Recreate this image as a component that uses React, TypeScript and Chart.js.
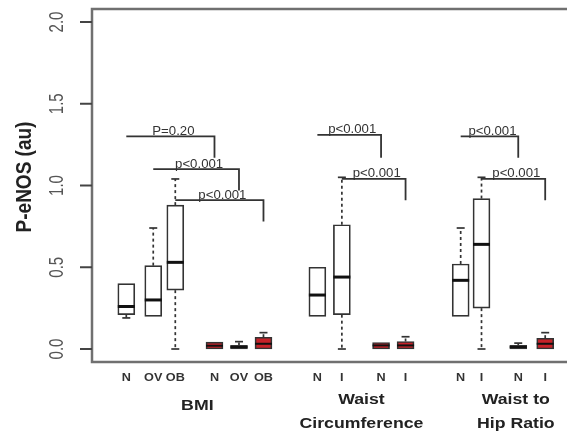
import React, { useEffect, useRef } from 'react';
import { Chart, registerables } from 'chart.js';
Chart.register(...registerables);

// ---- data ----
const boxLabels = ['N', 'OV', 'OB', 'N', 'OV', 'OB', 'N', 'I', 'N', 'I', 'N', 'I', 'N', 'I'];
const boxPositions = [1.4, 2.5, 3.4, 5.0, 6.0, 7.0, 9.2, 10.2, 11.8, 12.8, 15.05, 15.9, 17.4, 18.5];
const whiskerLow = [0.19, 0.2, 0.0, 0.0, 0.0, 0.0, 0.2, 0.0, 0.0, 0.0, 0.2, 0.0, 0.0, 0.0];
const q1 = [0.21, 0.2, 0.36, 0.0, 0.0, 0.0, 0.2, 0.21, 0.0, 0.0, 0.2, 0.25, 0.0, 0.0];
const medians = [0.26, 0.3, 0.53, 0.02, 0.012, 0.032, 0.33, 0.44, 0.022, 0.022, 0.42, 0.64, 0.012, 0.032];
const q3 = [0.4, 0.51, 0.88, 0.042, 0.022, 0.072, 0.5, 0.76, 0.04, 0.046, 0.52, 0.92, 0.022, 0.066];
const whiskerHigh = [0.4, 0.74, 1.04, 0.042, 0.045, 0.1, 0.5, 1.05, 0.04, 0.075, 0.74, 1.05, 0.036, 0.1];
const redBox = [false, false, false, true, true, true, false, false, true, true, false, false, true, true];

const groupLines = [['BMI'], ['Waist', 'Circumference'], ['Waist to', 'Hip Ratio']];
const groupCenters = [4.3, 11.0, 17.3];

const bracketFrom = [0, 1, 2, 6, 7, 10, 11];
const bracketTo = [3, 4, 5, 8, 9, 12, 13];
const bracketLevel = [1.3, 1.1, 0.91, 1.31, 1.04, 1.3, 1.04];
const bracketDrop = [1.17, 0.97, 0.78, 1.17, 0.91, 1.17, 0.91];
const bracketText = ['P=0.20', 'p<0.001', 'p<0.001', 'p<0.001', 'p<0.001', 'p<0.001', 'p<0.001'];

const yTickValues = [0, 0.5, 1.0, 1.5, 2.0];
const yTickLabels = ['0.0', '0.5', '1.0', '1.5', '2.0'];
const yTitle = 'P-eNOS (au)';

const FONT = "'Liberation Sans', Arial, Helvetica, sans-serif";

function drawText(ctx: CanvasRenderingContext2D, s: string, x: number, y: number, font: string, color: string, sx = 1, baseline: CanvasTextBaseline = 'middle') {
  ctx.save();
  ctx.translate(x, y);
  ctx.scale(sx, 1);
  ctx.font = font;
  ctx.fillStyle = color;
  ctx.textAlign = 'center';
  ctx.textBaseline = baseline;
  ctx.fillText(s, 0, 0);
  ctx.restore();
}

function drawRotated(ctx: CanvasRenderingContext2D, s: string, x: number, y: number, font: string, color: string, sy = 1) {
  ctx.save();
  ctx.translate(x, y);
  ctx.rotate(-Math.PI / 2);
  ctx.scale(1, sy);
  ctx.font = font;
  ctx.fillStyle = color;
  ctx.textAlign = 'center';
  ctx.textBaseline = 'middle';
  ctx.fillText(s, 0, 0);
  ctx.restore();
}

const boxPlugin = {
  id: 'boxExtras',
  beforeDatasetsDraw(chart: any) {
    const ctx: CanvasRenderingContext2D = chart.ctx;
    const xs = chart.scales.x;
    const ys = chart.scales.y;
    ctx.save();
    ctx.strokeStyle = '#333';
    ctx.lineWidth = 1.7;
    for (let i = 0; i < boxPositions.length; i++) {
      const px = xs.getPixelForValue(boxPositions[i]);
      const cap = 4;
      if (whiskerHigh[i] > q3[i] + 0.001) {
        ctx.setLineDash([3, 3]);
        ctx.beginPath();
        ctx.moveTo(px, ys.getPixelForValue(q3[i]));
        ctx.lineTo(px, ys.getPixelForValue(whiskerHigh[i]));
        ctx.stroke();
        ctx.setLineDash([]);
        ctx.beginPath();
        ctx.moveTo(px - cap, ys.getPixelForValue(whiskerHigh[i]));
        ctx.lineTo(px + cap, ys.getPixelForValue(whiskerHigh[i]));
        ctx.stroke();
      }
      if (whiskerLow[i] < q1[i] - 0.001) {
        ctx.setLineDash([3, 3]);
        ctx.beginPath();
        ctx.moveTo(px, ys.getPixelForValue(q1[i]));
        ctx.lineTo(px, ys.getPixelForValue(whiskerLow[i]));
        ctx.stroke();
        ctx.setLineDash([]);
        ctx.beginPath();
        ctx.moveTo(px - cap, ys.getPixelForValue(whiskerLow[i]));
        ctx.lineTo(px + cap, ys.getPixelForValue(whiskerLow[i]));
        ctx.stroke();
      }
    }
    ctx.restore();
  },
  afterDatasetsDraw(chart: any) {
    const ctx: CanvasRenderingContext2D = chart.ctx;
    const xs = chart.scales.x;
    const ys = chart.scales.y;
    const area = chart.chartArea;
    ctx.save();
    // medians
    ctx.strokeStyle = '#111';
    for (let i = 0; i < boxPositions.length; i++) {
      const px = xs.getPixelForValue(boxPositions[i]);
      const py = ys.getPixelForValue(medians[i]);
      ctx.lineWidth = redBox[i] ? 2 : 3;
      ctx.beginPath();
      ctx.moveTo(px - 8.5, py);
      ctx.lineTo(px + 8.5, py);
      ctx.stroke();
    }
    // brackets
    ctx.strokeStyle = '#333';
    ctx.lineWidth = 1.8;
    for (let b = 0; b < bracketFrom.length; b++) {
      const x1 = xs.getPixelForValue(boxPositions[bracketFrom[b]]);
      const x2 = xs.getPixelForValue(boxPositions[bracketTo[b]]);
      const y1 = ys.getPixelForValue(bracketLevel[b]);
      const y2 = ys.getPixelForValue(bracketDrop[b]);
      ctx.beginPath();
      ctx.moveTo(x1, y1);
      ctx.lineTo(x2, y1);
      ctx.lineTo(x2, y2);
      ctx.stroke();
      drawText(ctx, bracketText[b], (x1 + x2) / 2 + 3, y1 - 1.5, `12px ${FONT}`, '#333', 1.1, 'alphabetic');
    }
    // frame
    ctx.strokeStyle = '#707070';
    ctx.lineWidth = 2.5;
    ctx.beginPath();
    ctx.moveTo(area.right + 2, area.top);
    ctx.lineTo(area.left, area.top);
    ctx.lineTo(area.left, area.bottom);
    ctx.lineTo(area.right + 2, area.bottom);
    ctx.stroke();
    // y ticks
    ctx.strokeStyle = '#444';
    ctx.lineWidth = 2;
    for (let t = 0; t < yTickValues.length; t++) {
      const py = ys.getPixelForValue(yTickValues[t]);
      ctx.beginPath();
      ctx.moveTo(area.left - 12, py);
      ctx.lineTo(area.left, py);
      ctx.stroke();
      drawRotated(ctx, yTickLabels[t], area.left - 35, py, `15px ${FONT}`, '#555', 1.35);
    }
    drawRotated(ctx, yTitle, 25, 177, `bold 19px ${FONT}`, '#222', 1.15);
    // x labels
    for (let i = 0; i < boxPositions.length; i++) {
      const px = xs.getPixelForValue(boxPositions[i]);
      drawText(ctx, boxLabels[i], px, 378, `bold 11.5px ${FONT}`, '#333', 1.1);
    }
    for (let g = 0; g < groupLines.length; g++) {
      const px = xs.getPixelForValue(groupCenters[g]);
      const lines = groupLines[g];
      if (lines.length === 1) {
        drawText(ctx, lines[0], px, 406, `bold 15px ${FONT}`, '#222', 1.18);
      } else {
        drawText(ctx, lines[0], px, 400, `bold 15px ${FONT}`, '#222', 1.18);
        drawText(ctx, lines[1], px, 424, `bold 15px ${FONT}`, '#222', 1.18);
      }
    }
    ctx.restore();
  },
};

export default function App() {
  const ref = useRef<HTMLCanvasElement | null>(null);
  useEffect(() => {
    document.body.style.margin = '0';
    const canvas = ref.current;
    if (!canvas) return;
    const chart = new Chart(canvas, {
      type: 'bar',
      data: {
        datasets: [
          {
            data: boxPositions.map((x, i) => ({ x, y: [q1[i], q3[i]] })) as any,
            backgroundColor: redBox.map((r) => (r ? '#c62229' : '#ffffff')),
            borderColor: '#333',
            borderWidth: 1.7,
            borderSkipped: false,
            barThickness: 17,
          } as any,
        ],
      },
      options: {
        responsive: false,
        animation: false,
        devicePixelRatio: 1,
        layout: { padding: { left: 92, top: 9, right: 0, bottom: 80 } },
        plugins: { legend: { display: false }, tooltip: { enabled: false } },
        scales: {
          x: { type: 'linear', min: 0, max: 19.39, display: false, offset: false } as any,
          y: { min: -0.0795, max: 2.0795, display: false },
        },
      },
      plugins: [boxPlugin],
    });
    return () => chart.destroy();
  }, []);
  return (
    <div style={{ width: 567, height: 442, background: '#fff' }}>
      <canvas ref={ref} width={567} height={442} style={{ display: 'block' }} />
    </div>
  );
}
